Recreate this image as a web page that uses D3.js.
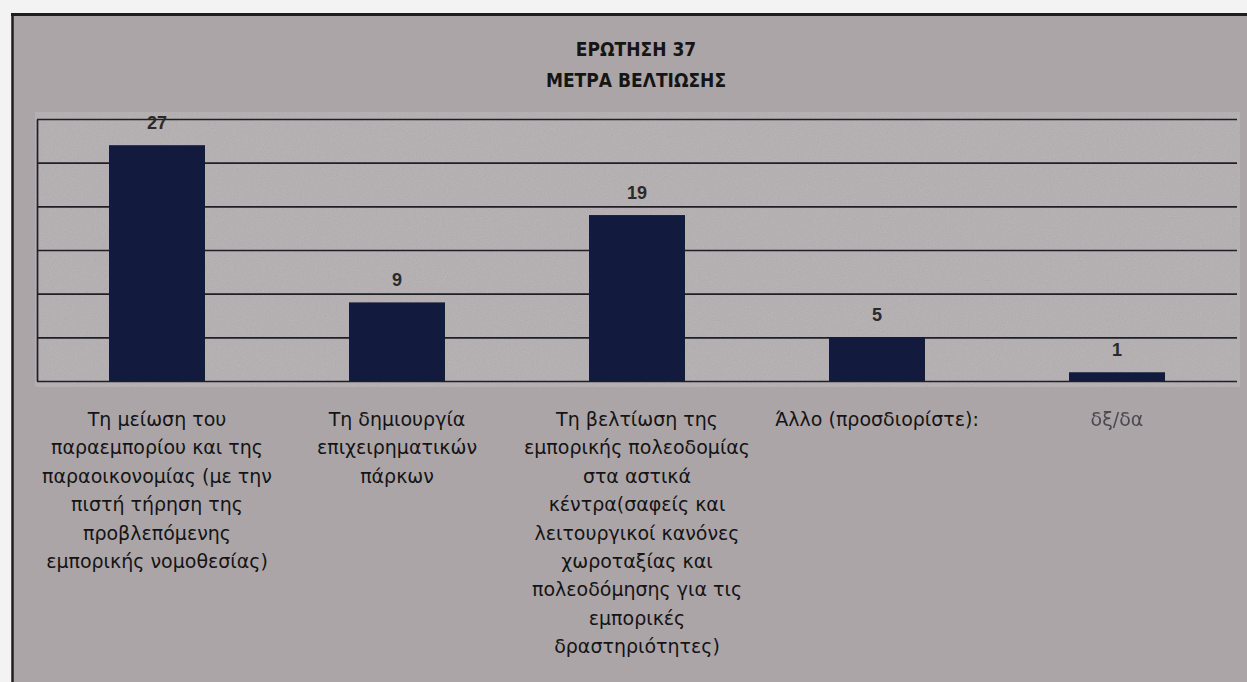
<!DOCTYPE html>
<html lang="el">
<head>
<meta charset="utf-8">
<title>ΕΡΩΤΗΣΗ 37 – ΜΕΤΡΑ ΒΕΛΤΙΩΣΗΣ</title>
<script src="https://cdn.jsdelivr.net/npm/d3@7"></script>
<style>
  html, body { margin: 0; padding: 0; background: #f3f3f3; }
  svg { display: block; }
</style>
</head>
<body>
<svg id="chart" width="1247" height="682"></svg>
<script>
// Survey question 37: improvement measures (number of answers)
const titleLines = ["ΕΡΩΤΗΣΗ 37", "ΜΕΤΡΑ ΒΕΛΤΙΩΣΗΣ"];

const categoryLines = [
  ["Τη μείωση του", "παραεμπορίου και της", "παραοικονομίας (με την", "πιστή τήρηση της", "προβλεπόμενης", "εμπορικής νομοθεσίας)"],
  ["Τη δημιουργία", "επιχειρηματικών", "πάρκων"],
  ["Τη βελτίωση της", "εμπορικής πολεοδομίας", "στα αστικά", "κέντρα(σαφείς και", "λειτουργικοί κανόνες", "χωροταξίας και", "πολεοδόμησης για τις", "εμπορικές", "δραστηριότητες)"],
  ["Άλλο (προσδιορίστε):"],
  ["δξ/δα"]
];
const categories = categoryLines.map(l => l.join(" "));
const values = [27, 9, 19, 5, 1];
const yTicks = [0, 5, 10, 15, 20, 25, 30];

const W = 1247, H = 682;
const plot = { left: 37, right: 1237, top: 119, bottom: 381 };

const svg = d3.select("#chart");
const defs = svg.append("defs");

// fine paper grain used on the plot area
const grain = defs.append("filter").attr("id", "grain")
  .attr("x", 0).attr("y", 0).attr("width", "100%").attr("height", "100%");
grain.append("feTurbulence").attr("type", "fractalNoise")
  .attr("baseFrequency", 0.9).attr("numOctaves", 2).attr("stitchTiles", "stitch");
grain.append("feColorMatrix").attr("type", "saturate").attr("values", 0);
grain.append("feComponentTransfer").append("feFuncA")
  .attr("type", "table").attr("tableValues", "0 0.22");
grain.append("feComposite").attr("operator", "in").attr("in2", "SourceGraphic");

const soft = defs.append("filter").attr("id", "soft");
soft.append("feGaussianBlur").attr("stdDeviation", 0.7);

// outer chart panel with its frame
svg.append("rect").attr("x", 12).attr("y", 14).attr("width", W - 12).attr("height", H - 14)
  .attr("fill", "#aca5a8");
svg.append("line").attr("x1", 11).attr("x2", W).attr("y1", 14.5).attr("y2", 14.5)
  .attr("stroke", "#1e1e1e").attr("stroke-width", 3);
svg.append("line").attr("x1", 12.5).attr("x2", 12.5).attr("y1", 13).attr("y2", H)
  .attr("stroke", "#1e1e1e").attr("stroke-width", 2.5);

// plot area background
svg.append("rect").attr("x", 35).attr("y", 112).attr("width", 1205).attr("height", 275)
  .attr("fill", "#b4aeb0");
svg.append("rect").attr("x", 35).attr("y", 112).attr("width", 1205).attr("height", 275)
  .attr("fill", "#ffffff").attr("filter", "url(#grain)");

// title
svg.append("g").selectAll("text").data(titleLines).join("text")
  .attr("x", 636).attr("y", (d, i) => 56 + i * 31)
  .attr("text-anchor", "middle")
  .attr("font-family", "'Liberation Sans Narrow', 'DejaVu Sans Condensed', sans-serif")
  .attr("font-weight", "bold").attr("font-size", 19)
  .attr("fill", "#151515")
  .text(d => d);

// scales
const x = d3.scaleBand().domain(categories)
  .range([plot.left, plot.right]).paddingInner(0.6).paddingOuter(0.3);
const y = d3.scaleLinear().domain([0, 30]).range([plot.bottom, plot.top]);

// horizontal gridlines and left axis line
const grid = svg.append("g").attr("transform", `translate(${plot.left},0)`)
  .call(d3.axisLeft(y).tickValues(yTicks).tickSize(-(plot.right - plot.left))
    .tickSizeOuter(0).tickFormat(""));
grid.selectAll("line").attr("stroke", "#1f1f24").attr("stroke-width", 1.7);
grid.select(".domain").attr("stroke", "#1f1f24").attr("stroke-width", 1.7);

// bars
svg.append("g").selectAll("rect").data(values).join("rect")
  .attr("x", (d, i) => x(categories[i]))
  .attr("y", d => y(d))
  .attr("width", x.bandwidth())
  .attr("height", d => y(0) - y(d))
  .attr("fill", "#121a3e");

// value labels
svg.append("g").selectAll("text").data(values).join("text")
  .attr("x", (d, i) => x(categories[i]) + x.bandwidth() / 2)
  .attr("y", d => y(d) - 16)
  .attr("text-anchor", "middle")
  .attr("font-family", "'Liberation Sans', Arial, sans-serif")
  .attr("font-weight", "bold").attr("font-size", 18)
  .attr("fill", "#2a2a2a")
  .text(d => d);

// category labels, one text block per bar
const labels = svg.append("g").selectAll("text").data(categoryLines).join("text")
  .attr("text-anchor", "middle")
  .attr("font-family", "'DejaVu Sans', Verdana, sans-serif")
  .attr("font-size", 19)
  .attr("fill", (d, i) => i === 4 ? "#4a4a4f" : "#141414")
  .attr("filter", (d, i) => i === 4 ? "url(#soft)" : null);
labels.each(function(lines, i) {
  const cx = x(categories[i]) + x.bandwidth() / 2;
  d3.select(this).selectAll("tspan").data(lines).join("tspan")
    .attr("x", cx)
    .attr("y", (d, j) => 426 + j * 28.4)
    .text(d => d);
});
</script>
</body>
</html>
